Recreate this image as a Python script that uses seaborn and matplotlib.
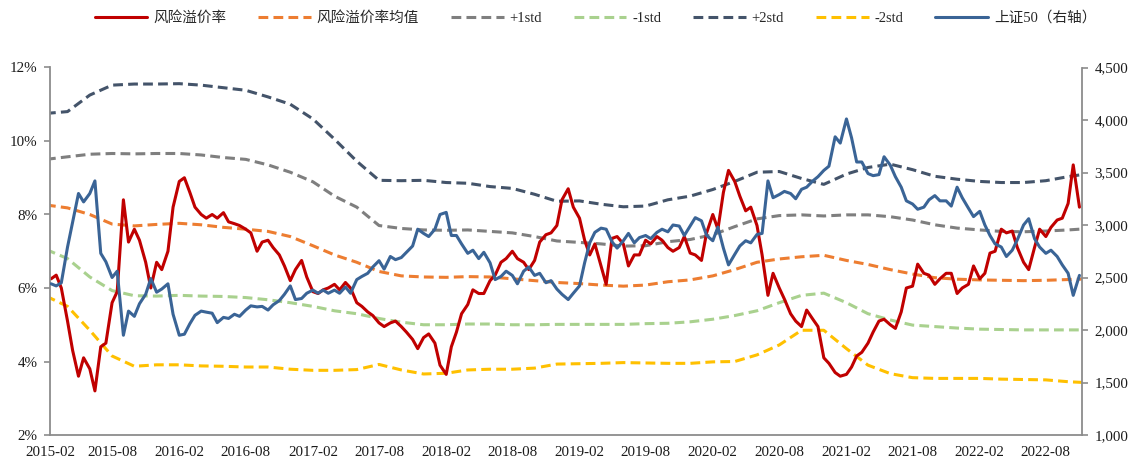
import pandas as pd
import matplotlib
matplotlib.use("Agg")  # no display
import matplotlib.pyplot as plt
import matplotlib.dates as mdates
from matplotlib.ticker import FuncFormatter, MultipleLocator
import seaborn as sns


# ---------------------------------------------------------------------------
# DATA
# ---------------------------------------------------------------------------
# risk premium (%), semi-monthly from 2015-02-15
risk_premium = [
    6.25, 6.35, 6.0, 5.1, 4.3, 3.6, 4.1, 3.8, 3.2, 4.4,
    4.5, 5.6, 5.9, 8.4, 7.25, 7.6, 7.3, 6.7, 6.0, 6.7,
    6.5, 7.0, 8.2, 8.9, 9.0, 8.6, 8.2, 8.0, 7.9, 8.0,
    7.9, 8.05, 7.8, 7.75, 7.7, 7.6, 7.5, 7.0,
    7.25, 7.3, 7.1, 6.9, 6.6, 6.2, 6.5, 6.75, 6.3, 5.9,
    5.85, 5.95, 6.0, 6.1, 5.95, 6.15, 6.0, 5.6, 5.5, 5.35,
    5.25, 5.05, 4.95, 5.05, 5.1, 4.95, 4.8, 4.6, 4.35, 4.65,
    4.75, 4.5, 3.9, 3.65, 4.4, 4.8, 5.3,
    5.55, 5.95, 5.85, 5.85, 6.2, 6.35, 6.7, 6.8, 7.0, 6.8,
    6.7, 6.5, 6.75, 7.25, 7.45, 7.5, 7.7, 8.4, 8.7, 8.2,
    7.9, 7.3, 6.9, 7.2, 6.6, 6.1, 7.35, 7.4, 7.2, 6.6,
    6.9, 6.9, 7.3, 7.2, 7.4, 7.3, 7.1,
    7.0, 7.1, 7.4, 6.95, 6.9, 6.75, 7.5, 8.0, 7.6, 8.6,
    9.2, 8.9, 8.5, 8.1, 8.2, 7.7, 6.9, 5.8, 6.4, 6.0,
    5.7, 5.3, 5.1, 4.95, 5.4, 5.15, 4.95, 4.1, 3.95, 3.7,
    3.6, 3.65, 3.85, 4.15, 4.25, 4.5, 4.8,
    5.1, 5.15, 5.0, 4.9, 5.35, 6.0, 6.05, 6.65, 6.4, 6.35,
    6.1, 6.25, 6.4, 6.4, 5.85, 6.0, 6.1, 6.6, 6.25, 6.4,
    6.95, 7.0, 7.6, 7.5, 7.55, 7.1, 6.7, 6.5, 7.1, 7.6,
    7.4, 7.65, 7.85, 7.9, 8.3, 9.35, 8.2,
]

# SSE 50 index (right axis), same semi-monthly dates
sse50 = [
    2440, 2420, 2450, 2790, 3030, 3300, 3220, 3300, 3420, 2730,
    2650, 2500, 2560, 1950, 2180, 2130, 2250, 2340, 2490, 2360,
    2390, 2440, 2150, 1950, 1960, 2060, 2140, 2180, 2170, 2160,
    2070, 2120, 2110, 2150, 2130, 2190, 2230, 2220,
    2225, 2190, 2240, 2280, 2340, 2420, 2290, 2300, 2350, 2380,
    2350, 2380, 2350, 2380, 2350, 2410, 2350, 2480, 2510, 2540,
    2600, 2660, 2580, 2700, 2670, 2690, 2740, 2800, 2960, 2920,
    2890, 2960, 3100, 3120, 2900, 2900, 2820,
    2730, 2760, 2680, 2740, 2640, 2480, 2510, 2560, 2520, 2440,
    2560, 2600, 2520, 2540, 2450, 2470, 2390, 2340, 2290, 2350,
    2420, 2640, 2830, 2930, 2970, 2960, 2840, 2780, 2850, 2920,
    2830, 2880, 2900, 2870, 2930, 2960, 2935,
    3000, 2990, 2900, 2990, 3070, 3040, 2900, 2850, 2980, 2780,
    2620, 2720, 2800, 2850, 2830, 2910, 2920, 3420, 3260, 3290,
    3320, 3300, 3250, 3340, 3360, 3420, 3460, 3520, 3560, 3840,
    3780, 4010, 3830, 3600, 3600, 3490, 3470,
    3480, 3650, 3570, 3460, 3360, 3230, 3200, 3150, 3170, 3240,
    3280, 3230, 3230, 3180, 3360, 3260, 3160, 3080, 3130, 3000,
    2900, 2820, 2790, 2700, 2760, 2860, 3000, 3060, 2870, 2790,
    2730, 2760, 2700, 2620, 2540, 2330, 2520,
]

# band lines (%), every two months from 2015-02-01
premium_mean = [
    8.26, 8.18, 8.0, 7.74, 7.69, 7.73, 7.76, 7.72, 7.65, 7.6,
    7.54, 7.4, 7.15, 6.9, 6.7, 6.45, 6.33, 6.3, 6.29, 6.31,
    6.3, 6.25, 6.2, 6.15, 6.12, 6.08, 6.05, 6.08, 6.17, 6.22,
    6.33, 6.5, 6.7, 6.79, 6.85, 6.89, 6.75, 6.64, 6.5, 6.38,
    6.28, 6.24, 6.22, 6.21, 6.2, 6.21, 6.23, 6.25,
]
plus_1std = [
    9.5, 9.57, 9.64, 9.66, 9.65, 9.66, 9.66, 9.62, 9.55, 9.5,
    9.35, 9.15, 8.89, 8.5, 8.2, 7.7, 7.62, 7.58, 7.57, 7.58,
    7.54, 7.5, 7.4, 7.28, 7.24, 7.2, 7.14, 7.15, 7.26, 7.32,
    7.45, 7.67, 7.88, 7.97, 7.99, 7.96, 7.99, 7.99, 7.94, 7.85,
    7.72, 7.63, 7.58, 7.54, 7.53, 7.55, 7.58, 7.62,
]
minus_1std = [
    7.05, 6.8, 6.3, 5.93, 5.79, 5.78, 5.8, 5.78, 5.77, 5.74,
    5.68, 5.6, 5.5, 5.38, 5.3, 5.17, 5.07, 5.0, 5.0, 5.02,
    5.02, 5.0, 5.0, 5.01, 5.01, 5.01, 5.01, 5.03, 5.04, 5.08,
    5.15, 5.25, 5.38, 5.6, 5.8, 5.86, 5.6, 5.3, 5.13, 4.99,
    4.95, 4.91, 4.88, 4.87, 4.86, 4.86, 4.86, 4.86,
]
plus_2std = [
    10.75, 10.8, 11.25, 11.52, 11.55, 11.55, 11.56, 11.52, 11.45, 11.38,
    11.2, 11.0, 10.6, 10.05, 9.45, 8.93, 8.92, 8.93, 8.87, 8.85,
    8.76, 8.71, 8.55, 8.36, 8.37, 8.28, 8.21, 8.23, 8.4, 8.5,
    8.68, 8.9, 9.15, 9.17, 8.98, 8.82, 9.1, 9.28, 9.37, 9.22,
    9.04, 8.96, 8.9, 8.87, 8.87, 8.92, 9.03, 9.12,
]
minus_2std = [
    5.78, 5.5, 4.85, 4.15, 3.87, 3.91, 3.91, 3.88, 3.87, 3.85,
    3.85, 3.79, 3.76, 3.76, 3.78, 3.92, 3.77, 3.66, 3.68, 3.77,
    3.79, 3.79, 3.82, 3.93, 3.94, 3.95, 3.97, 3.96, 3.95, 3.95,
    3.99, 4.0, 4.18, 4.45, 4.85, 4.85, 4.35, 3.9, 3.67, 3.56,
    3.54, 3.54, 3.54, 3.52, 3.51, 3.5, 3.45, 3.42,
]

tick_dates = ["2015-02", "2015-08", "2016-02", "2016-08", "2017-02", "2017-08",
              "2018-02", "2018-08", "2019-02", "2019-08", "2020-02", "2020-08",
              "2021-02", "2021-08", "2022-02", "2022-08"]


# ---------------------------------------------------------------------------
# STYLE
# ---------------------------------------------------------------------------
RED = "#C00000"
BLUE = "#3A6496"
AXIS_GREY = "#8C8C8C"
TEXT = "#1A1A1A"
DASH = (0, (3.2, 1.7))
LW = 2.2
X_LEFT = pd.Timestamp("2015-02-12")
X_RIGHT = pd.Timestamp("2022-11-08")

sns.set_style("white")
plt.rcParams["font.family"] = ["Liberation Serif", "Noto Sans CJK SC"]
plt.rcParams["axes.unicode_minus"] = False


def series(values, start, freq):
    return pd.DataFrame({
        "date": pd.date_range(start, periods=len(values), freq=freq),
        "value": values,
    })


def main():
    fig = plt.figure(figsize=(11.32, 4.61), dpi=100)
    ax = fig.add_axes([50 / 1132, 26 / 461, 1032 / 1132, 367.5 / 461])
    ax2 = ax.twinx()

    bands = [
        (premium_mean, "风险溢价率均值", "#ED7D31"),
        (plus_1std, "+1std", "#7F7F7F"),
        (minus_1std, "-1std", "#A9D18E"),
        (plus_2std, "+2std", "#44546A"),
        (minus_2std, "-2std", "#FFC000"),
    ]
    for vals, name, col in bands:
        sns.lineplot(data=series(vals, "2015-02-01", "2MS"), x="date", y="value",
                     ax=ax, color=col, lw=LW, linestyle=DASH, label=name)

    sns.lineplot(data=series(risk_premium, "2015-02-15", "SMS"), x="date", y="value",
                 ax=ax, color=RED, lw=LW, label="风险溢价率")
    sns.lineplot(data=series(sse50, "2015-02-15", "SMS"), x="date", y="value",
                 ax=ax2, color=BLUE, lw=LW, label="上证50（右轴）")

    # axes ranges and ticks
    ax.set_ylim(2, 12)
    ax.yaxis.set_major_locator(MultipleLocator(2))
    ax.yaxis.set_major_formatter(FuncFormatter(lambda v, _: f"{v:.0f}%"))
    ax2.set_ylim(1000, 4500)
    ax2.yaxis.set_major_locator(MultipleLocator(500))
    ax2.yaxis.set_major_formatter(FuncFormatter(lambda v, _: f"{v:,.0f}"))

    # first label sits right at the axis start
    tick_pos = [max(pd.Timestamp(d), X_LEFT) for d in tick_dates]
    ax.set_xticks(tick_pos)
    ax.set_xticklabels(tick_dates)
    ax.set_xlim(X_LEFT, X_RIGHT)

    for a in (ax, ax2):
        a.set_xlabel("")
        a.set_ylabel("")
        a.grid(False)
        for s in a.spines.values():
            s.set_visible(False)
    ax.spines["left"].set_visible(True)
    ax.spines["bottom"].set_visible(True)
    ax2.spines["right"].set_visible(True)
    for s in (ax.spines["left"], ax.spines["bottom"], ax2.spines["right"]):
        s.set_color(AXIS_GREY)
        s.set_linewidth(1.3)

    ax.tick_params(axis="y", direction="out", length=4, width=1.2, color=AXIS_GREY,
                   pad=5, labelsize=10.8, labelcolor=TEXT, left=True)
    ax.tick_params(axis="x", length=0, pad=8, labelsize=10.8, labelcolor=TEXT)
    ax2.tick_params(axis="y", direction="out", length=4, width=1.2, color=AXIS_GREY,
                    pad=5, labelsize=10.8, labelcolor=TEXT, right=True)

    # one shared legend on top
    h1, l1 = ax.get_legend_handles_labels()
    h2, l2 = ax2.get_legend_handles_labels()
    for a in (ax, ax2):
        if a.get_legend() is not None:
            a.get_legend().remove()
    order = ["风险溢价率", "风险溢价率均值", "+1std", "-1std", "+2std", "-2std", "上证50（右轴）"]
    lookup = dict(zip(l1 + l2, h1 + h2))
    fig.legend([lookup[k] for k in order], order, loc="center",
               bbox_to_anchor=(0.526, 1 - 18 / 461), ncol=7, frameon=False,
               fontsize=10.5, handlelength=3.6, handletextpad=0.4, columnspacing=2.2)

    fig.savefig("out.png", dpi=100)
    plt.close(fig)


if __name__ == "__main__":
    main()
